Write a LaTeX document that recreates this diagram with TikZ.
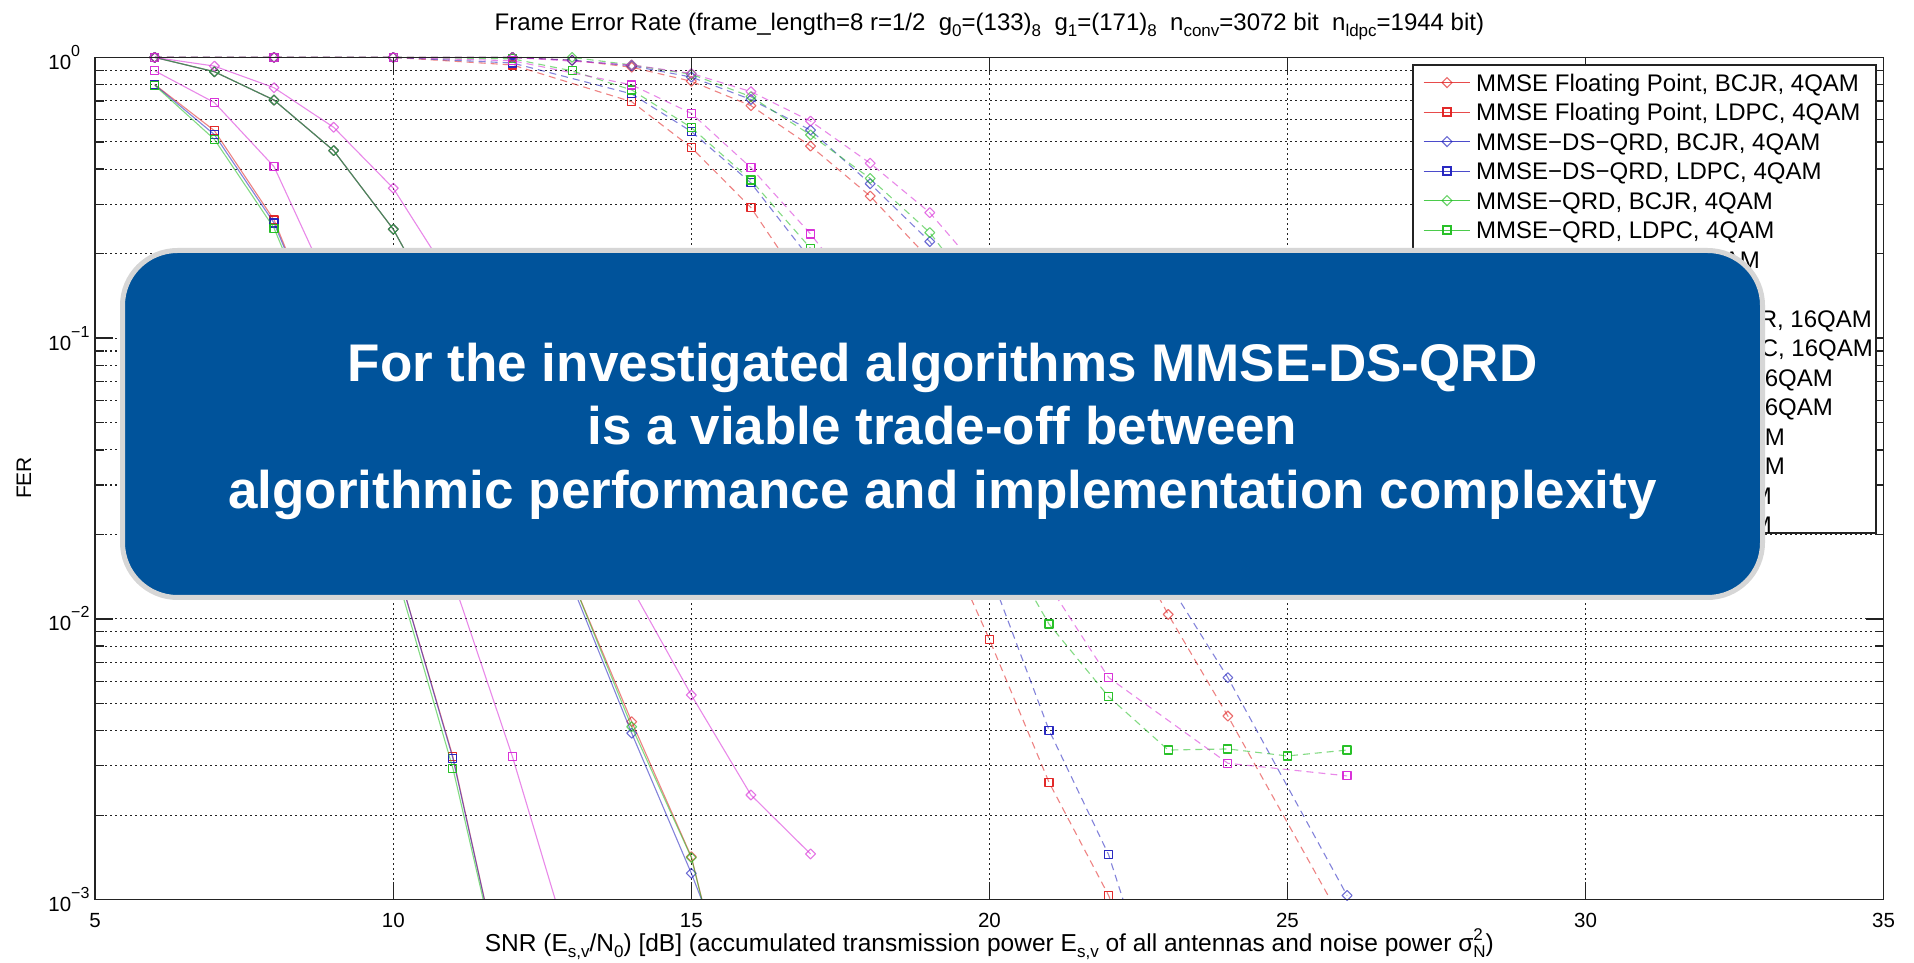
\documentclass[tikz,border=0pt]{standalone}
\usepackage{fontspec}
\setmainfont{Liberation Sans}
\usetikzlibrary{plotmarks}

\definecolor{boxblue}{RGB}{0,83,155}
\definecolor{boxrim}{RGB}{214,214,214}
\definecolor{cR}{RGB}{225,30,30}
\definecolor{cB}{RGB}{30,30,190}
\definecolor{cG}{RGB}{30,190,30}
\definecolor{cM}{RGB}{215,40,215}
\definecolor{axc}{RGB}{35,35,35}

% lowered / raised small text for sub- and superscripts
\newcommand\tsb[1]{\raisebox{-5.5pt}{\fontsize{17}{17}\selectfont #1}}
\newcommand\lsb[1]{\raisebox{-6.5pt}{\fontsize{17}{17}\selectfont #1}}
\newcommand\lsp[1]{\raisebox{11pt}{\fontsize{17}{17}\selectfont #1}}
\newcommand\pw[1]{\raisebox{13pt}{\fontsize{16}{16}\selectfont #1}}

% one FER series: line clipped to the axes, then its markers
\newcommand\fercurve[3]{%
  \begin{scope}
    \clip (5,-3) rectangle (35,0.06);
    \draw[#1] plot coordinates {#3};
  \end{scope}
  \begin{scope}
    \clip (5,-3.03) rectangle (35,0.06);
    \draw[#1,#2] plot[only marks] coordinates {#3};
  \end{scope}}

\tikzset{
  fln/.style={line width=1.1pt, draw opacity=0.55, line join=round},
  dln/.style={fln, dash pattern=on 7pt off 5pt},
  sq/.style={mark=square, mark size=4pt, mark options={solid, line width=1.2pt, draw opacity=0.95}},
  dm/.style={mark=square, mark size=3.5pt, mark options={solid, rotate=45, line width=1.1pt, draw opacity=0.65}},
  gridln/.style={axc, line width=1.1pt, dash pattern=on 1.6pt off 3.4pt},
  axln/.style={axc, line width=1.4pt},
  tk/.style={font=\fontsize{20.5}{20.5}\selectfont, inner sep=0pt},
  lgtxt/.style={font=\fontsize{24}{24}\selectfont, inner sep=0pt, anchor=base west},
  lgcut/.style={font=\fontsize{24}{24}\selectfont, inner sep=0pt, anchor=base east},
}

\begin{document}
\begin{tikzpicture}[x=1pt,y=1pt]
\useasboundingbox (0,0) rectangle (1914,962);
\fill[white] (0,0) rectangle (1914,962);

% ---------------- axes in data coordinates (SNR in dB, log10 FER) -------------
\begin{scope}[shift={(-202.87pt,904.6pt)}, x=59.613pt, y=280.77pt]
  % grid
  \foreach \d in {-3,-2,-1}
    \foreach \k in {2,...,9}
      \draw[gridln] (5,{\d+log10(\k)}) -- (35,{\d+log10(\k)});
  \foreach \d in {-2,-1}
    \draw[gridln] (5,\d) -- (35,\d);
  \foreach \s in {10,15,20,25,30}
    \draw[gridln] (\s,-3) -- (\s,0);

  % ---- 4QAM, solid lines ----
  \fercurve{cR,fln}{dm}{(6,0) (7,-0.051) (8,-0.152) (9,-0.332) (10,-0.612) (11,-1.0) (12,-1.42) (13,-1.86) (14,-2.366) (15,-2.847) (16,-3.7)}
  \fercurve{cR,fln}{sq}{(6,-0.097) (7,-0.261) (8,-0.579) (9,-1.1) (10,-1.77) (11,-2.49) (12,-3.45)}
  \fercurve{cB,fln}{dm}{(6,0) (7,-0.051) (8,-0.152) (9,-0.332) (10,-0.612) (11,-1.0) (12,-1.43) (13,-1.88) (14,-2.407) (15,-2.906) (16,-3.45)}
  \fercurve{cB,fln}{sq}{(6,-0.098) (7,-0.275) (8,-0.59) (9,-1.1) (10,-1.77) (11,-2.496) (12,-3.45)}
  \fercurve{cG,fln}{dm}{(6,0) (7,-0.051) (8,-0.152) (9,-0.332) (10,-0.612) (11,-1.0) (12,-1.42) (13,-1.86) (14,-2.384) (15,-2.85) (16,-3.7)}
  \fercurve{cG,fln}{sq}{(6,-0.1) (7,-0.292) (8,-0.608) (9,-1.12) (10,-1.8) (11,-2.532) (12,-3.45)}
  \fercurve{cM,fln}{dm}{(6,0) (7,-0.031) (8,-0.108) (9,-0.249) (10,-0.466) (11,-0.8) (12,-1.15) (13,-1.52) (14,-1.89) (15,-2.271) (16,-2.627) (17,-2.837)}
  \fercurve{cM,fln}{sq}{(6,-0.048) (7,-0.161) (8,-0.389) (9,-0.85) (10,-1.35) (11,-1.86) (12,-2.491) (13,-3.2)}

  % ---- 16QAM, dashed lines ----
  \fercurve{cR,dln}{dm}{(6,0) (8,0) (10,0) (12,0) (13,-0.01) (14,-0.035) (15,-0.085) (16,-0.172) (17,-0.316) (18,-0.494) (19,-0.72) (20,-0.98) (21,-1.27) (22,-1.6) (23,-1.984) (24,-2.346) (26,-3.106)}
  \fercurve{cR,dln}{sq}{(6,0) (8,0) (10,0) (12,-0.027) (14,-0.158) (15,-0.321) (16,-0.535) (17,-0.85) (18,-1.2) (19,-1.6) (20,-2.073) (21,-2.582) (22,-2.985) (23,-3.5)}
  \fercurve{cB,dln}{dm}{(6,0) (8,0) (10,0) (12,0) (13,-0.01) (14,-0.03) (15,-0.07) (16,-0.15) (17,-0.259) (18,-0.45) (19,-0.656) (20,-0.95) (21,-1.25) (22,-1.55) (23,-1.87) (24,-2.209) (26,-2.985)}
  \fercurve{cB,dln}{sq}{(6,0) (8,0) (10,0) (12,-0.02) (14,-0.13) (15,-0.264) (16,-0.447) (17,-0.72) (18,-1.05) (19,-1.4) (20,-1.83) (21,-2.396) (22,-2.84) (23,-3.5)}
  \fercurve{cG,dln}{dm}{(6,0) (8,0) (10,0) (12,0) (13,0) (14,-0.027) (15,-0.06) (16,-0.14) (17,-0.276) (18,-0.431) (19,-0.624) (20,-0.9) (21,-1.2) (22,-1.55)}
  \fercurve{cG,dln}{sq}{(6,0) (8,0) (10,0) (12,-0.005) (13,-0.048) (14,-0.116) (15,-0.25) (16,-0.437) (17,-0.68) (18,-0.98) (19,-1.3) (20,-1.65) (21,-2.018) (22,-2.277) (23,-2.467) (24,-2.463) (25,-2.488) (26,-2.467)}
  \fercurve{cM,dln}{dm}{(6,0) (8,0) (10,0) (12,0) (14,-0.027) (15,-0.057) (16,-0.122) (17,-0.227) (18,-0.377) (19,-0.553) (20,-0.8) (21,-1.1) (22,-1.45)}
  \fercurve{cM,dln}{sq}{(6,0) (8,0) (10,0) (12,-0.012) (14,-0.098) (15,-0.199) (16,-0.393) (17,-0.629) (18,-0.9) (19,-1.2) (20,-1.55) (21,-1.88) (22,-2.209) (24,-2.514) (26,-2.559)}

  % ticks
  \foreach \d in {-3,-2,-1}
    \foreach \k in {2,...,9} {
      \draw[axln] (5,{\d+log10(\k)}) -- ++(9pt,0);
      \draw[axln] (35,{\d+log10(\k)}) -- ++(-9pt,0);
    }
  \foreach \d in {-2,-1} {
    \draw[axln] (5,\d) -- ++(18pt,0);
    \draw[axln] (35,\d) -- ++(-18pt,0);
  }
  \foreach \s in {10,15,20,25,30} {
    \draw[axln] (\s,-3) -- ++(0,18pt);
    \draw[axln] (\s,0) -- ++(0,-18pt);
  }
  % axis frame
  \draw[axln] (5,-3) rectangle (35,0);

  % tick labels
  \foreach \s in {5,10,...,35}
    \node[tk] (xt\s) at (\s,-3) [yshift=-21pt] {\s};
  \node[tk, anchor=west] (yt0) at (5,0)  [xshift=-47pt] {10\pw{0}};
  \node[tk, anchor=west] (yt1) at (5,-1) [xshift=-47pt] {10\pw{−1}};
  \node[tk, anchor=west] (yt2) at (5,-2) [xshift=-47pt] {10\pw{−2}};
  \node[tk, anchor=west] (yt3) at (5,-3) [xshift=-47pt] {10\pw{−3}};
\end{scope}

% axis labels and title
\node[font=\fontsize{24}{24}\selectfont, inner sep=0pt, anchor=base] (ttl) at (989.4,931)
  {Frame Error Rate (frame\_length=8 r=1/2\ \ g\tsb{0}=(133)\tsb{8}\ \ g\tsb{1}=(171)\tsb{8}\ \ n\tsb{conv}=3072 bit\ \ n\tsb{ldpc}=1944 bit)};
\node[font=\fontsize{24.5}{24.5}\selectfont, inner sep=0pt, anchor=base] (xl) at (989.4,11)
  {SNR (E\lsb{s,v}/N\lsb{0}) [dB] (accumulated transmission power E\lsb{s,v} of all antennas and noise power σ\rlap{\lsp{2}}\lsb{N})};
\node[font=\fontsize{21}{21}\selectfont, inner sep=0pt, rotate=90] (yl) at (24,484) {FER};

% legend
\draw[axc, line width=1.2pt, fill=white] (1413,429) rectangle (1876,897);
\foreach \n/\c/\m/\t [count=\i from 0] in {
    a/cR/dm/{MMSE Floating Point, BCJR, 4QAM},
    b/cR/sq/{MMSE Floating Point, LDPC, 4QAM},
    c/cB/dm/{MMSE−DS−QRD, BCJR, 4QAM},
    d/cB/sq/{MMSE−DS−QRD, LDPC, 4QAM},
    e/cG/dm/{MMSE−QRD, BCJR, 4QAM},
    f/cG/sq/{MMSE−QRD, LDPC, 4QAM}} {
  \pgfmathsetmacro\yy{879.4-29.5*\i}
  \draw[\c, line width=1.1pt, draw opacity=0.8] (1423.6,\yy) -- (1470,\yy);
  \draw[\c, \m] plot[only marks] coordinates {(1447,\yy)};
  \node[lgtxt] (lg\n) at (1476,\yy-8.6) {\t};
}
\node[lgcut] (lgg) at (1760,693.8) {AM};
\node[lgcut] (lgi) at (1872,634.8) {R, 16QAM};
\node[lgcut] (lgj) at (1873,605.3) {C, 16QAM};
\node[lgcut] (lgk) at (1833,575.8) {6QAM};
\node[lgcut] (lgl) at (1833,546.3) {6QAM};
\node[lgcut] (lgm) at (1785,516.8) {M};
\node[lgcut] (lgn) at (1785,487.3) {M};
\node[lgcut] (lgo) at (1772,457.8) {M};
\node[lgcut] (lgp) at (1772,428.3) {M};

% message box and its statement
\node[fill=boxblue, draw=boxrim, line width=5pt, rounded corners=55pt,
      minimum width=1640pt, minimum height=347pt, inner sep=0pt]
  (msgbox) at (942.5,538) {};
\node[text=white, align=center, inner sep=0pt,
      font=\fontsize{53}{63.5}\selectfont\bfseries]
  (msg) at ([yshift=-7pt]msgbox.center)
  {For the investigated algorithms MMSE-DS-QRD\\is a viable trade-off between\\algorithmic performance and implementation complexity};
\end{tikzpicture}
\end{document}
